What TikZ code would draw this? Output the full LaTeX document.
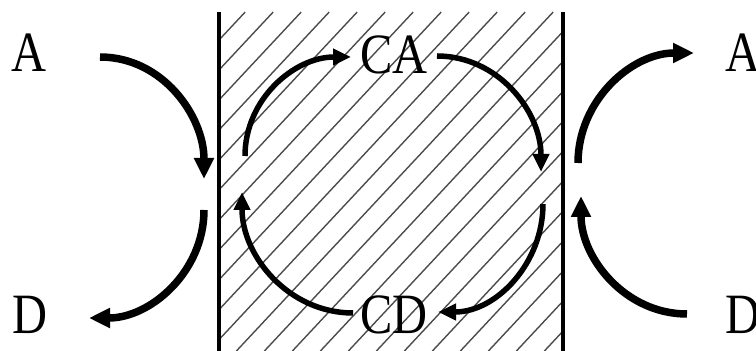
\documentclass[tikz,border=0pt]{standalone}
\usepackage{fontspec}
\setmainfont{Liberation Serif}
\usetikzlibrary{arrows.meta}
\tikzset{
  lbl/.style={inner sep=0pt, anchor=base, font=\fontsize{57}{60}\selectfont},
  wall/.style={line width=4pt},
  hatch/.style={line width=1.4pt, black!70},
  outerarr/.style={line width=7.5pt, -{Triangle[length=21pt,width=19pt]}},
  innerarr/.style={line width=5.5pt, -{Triangle[length=18pt,width=16pt]}},
}
\newcommand{\sx}[1]{\scalebox{0.85}[1]{#1}}
\begin{document}
\begin{tikzpicture}[x=1pt,y=1pt]
\useasboundingbox (0,0) rectangle (756,351);
% hatching
\begin{scope}
  \clip (219,0) rectangle (563,339);
  \foreach \k in {-4,...,20} {
    \draw[hatch] (12.4+28*\k,0) -- ++(316.8,339);
  }
\end{scope}
% walls
\coordinate (wl1) at (219,0);
\coordinate (wl2) at (219,339);
\coordinate (wr1) at (563,0);
\coordinate (wr2) at (563,339);
\draw[wall] (wl1) -- (wl2);
\draw[wall] (wr1) -- (wr2);
% labels
\node[lbl] (A) at (29,279) {\sx{A}};
\node[lbl] (D) at (30,17) {\sx{D}};
\node[lbl] (CA) at (394,277) {\sx{CA}};
\node[lbl] (CD) at (394,17) {\sx{CD}};
\node[lbl, anchor=base west] (A2) at (725,279) {\sx{A}};
\node[lbl, anchor=base west] (D2) at (725,17) {\sx{D}};
% outer arrow ends
\coordinate (a1s) at (100,294);
\coordinate (a1e) at (204,172);
\coordinate (b1s) at (204,141);
\coordinate (b1e) at (89,33);
\coordinate (c1s) at (578,188);
\coordinate (c1e) at (694,298);
\coordinate (d1s) at (687,37);
\coordinate (d1e) at (581,155);
\draw[outerarr] (a1s) to[out=0,in=90] (a1e);
\draw[outerarr] (b1s) to[out=-90,in=0] (b1e);
\draw[outerarr] (c1s) to[out=90,in=180] (c1e);
\draw[outerarr] (d1s) to[out=180,in=-90] (d1e);
% inner loop ends
\coordinate (i1s) at (245,195);
\coordinate (i1e) at (351,294);
\coordinate (i2s) at (437,295);
\coordinate (i2e) at (541,179);
\coordinate (i3s) at (543,147);
\coordinate (i3e) at (438,39);
\coordinate (i4s) at (353,38);
\coordinate (i4e) at (242,159);
\draw[innerarr] (i1s) to[out=90,in=180] (i1e);
\draw[innerarr] (i2s) to[out=0,in=90] (i2e);
\draw[innerarr] (i3s) to[out=-90,in=0] (i3e);
\draw[innerarr] (i4s) to[out=180,in=-90] (i4e);
\end{tikzpicture}
\end{document}
